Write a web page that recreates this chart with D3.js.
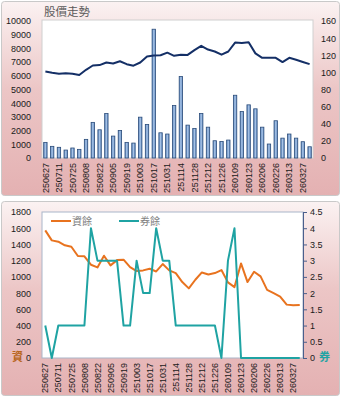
<!DOCTYPE html>
<html><head><meta charset="utf-8">
<script src="https://cdn.jsdelivr.net/npm/d3@7"></script>
<style>
html,body{margin:0;padding:0;background:#fff;}
svg{display:block;font-family:"Liberation Sans",Arial,sans-serif;}
</style></head>
<body><svg id="c" width="341" height="398"></svg>
<script>
const dates = ["250627","250704","250711","250718","250725","250801","250808","250815","250822","250829",
"250905","250912","250919","250926","251003","251009","251017","251024","251031","251107",
"251114","251121","251128","251205","251212","251219","251226","260102","260109","260116",
"260123","260130","260206","260211","260226","260306","260313","260320","260327","260402"];
const volume = [1140,850,780,580,730,630,1360,2600,2060,3250,1600,2010,1140,1090,2980,2450,9400,1840,1750,3830,
5950,2400,2160,3250,2250,1260,1210,1310,4580,3390,3880,3590,2250,1020,2720,1450,1750,1450,1190,820];
const price = [101,99.6,98.5,99,98.5,97,103,108,108.5,111.5,110.4,113,109.6,107.8,111.5,118.5,119.6,120,123,119.3,
120.7,120.4,126,131,126.7,124.4,120.7,124.4,134.8,134.4,135.2,122.2,117,117,117,112,117,114.8,112.2,109.6];
const margin = [1574,1450,1434,1389,1372,1257,1253,1150,1117,1261,1142,1207,1212,1121,1072,1080,1100,1067,1158,1080,
1047,936,858,965,1055,1030,1047,1084,932,874,1166,936,1063,1006,840,800,758,658,650,654];
const shortBal = [1,0,1,1,1,1,1,4,3,3,3,3,1,1,3,2,2,4,3,3,1,1,1,1,1,1,1,0,3,4,0,0,0,0,0,0,0,0,0,0];
const volTicks = d3.range(0,10001,1000);
const priceTicks = d3.range(0,161,20);
const marginTicks = d3.range(0,1801,200);
const shortTicks = d3.range(0,4.51,0.5);
const title = "股價走勢";
const legendNames = ["資餘","券餘"];

const svg = d3.select("#c");
const defs = svg.append("defs");
const bg = defs.append("linearGradient").attr("id","bg").attr("x1",0).attr("y1",0).attr("x2",0).attr("y2",1);
bg.append("stop").attr("offset","0").attr("stop-color","#fbf2f2");
bg.append("stop").attr("offset","0.45").attr("stop-color","#ecc6c6");
bg.append("stop").attr("offset","1").attr("stop-color","#e4b1b2");
const barG = defs.append("linearGradient").attr("id","bar").attr("x1",0).attr("y1",0).attr("x2",1).attr("y2",0);
barG.append("stop").attr("offset","0").attr("stop-color","#5a86c0");
barG.append("stop").attr("offset","0.5").attr("stop-color","#a9c4e6");
barG.append("stop").attr("offset","1").attr("stop-color","#5a86c0");

// panels
[[1,1,339,195],[1,201,339,195]].forEach(p=>{
  svg.append("rect").attr("x",p[0]+0.5).attr("y",p[1]+0.5).attr("width",p[2]-1).attr("height",p[3]-1)
    .attr("rx",3).attr("fill","url(#bg)").attr("stroke","#c9c9c9");
});

const textCol = "#1a1a1a";
function styleAxis(g){
  g.select(".domain").remove();
  g.selectAll("text").attr("fill",textCol).style("font-size","9px");
}

// ---------- Top chart ----------
const T = {l:42,r:313,t:21,b:158};
const x1 = d3.scaleBand().domain(dates).range([T.l,T.r]);
const yV = d3.scaleLinear().domain([0,10000]).range([T.b,T.t]);
const yP = d3.scaleLinear().domain([0,160]).range([T.b,T.t]);
svg.append("rect").attr("x",T.l).attr("y",T.t-1).attr("width",T.r-T.l).attr("height",T.b-T.t+1)
  .attr("fill","#fff").attr("stroke","#d0d0d0");
svg.append("text").attr("x",44).attr("y",16).text(title).attr("fill","#595959").style("font-size","11.5px")
  .style("font-family","'Noto Sans CJK TC',sans-serif");
const bw = x1.bandwidth()*0.5;
svg.append("g").selectAll("rect").data(volume).join("rect")
  .attr("x",(d,i)=>x1(dates[i])+x1.bandwidth()/2-bw/2).attr("width",bw)
  .attr("y",d=>yV(d)).attr("height",d=>yV(0)-yV(d))
  .attr("fill","url(#bar)").attr("stroke","#2c4d7a").attr("stroke-width",0.8);
svg.append("path").datum(price)
  .attr("d",d3.line().x((d,i)=>x1(dates[i])+x1.bandwidth()/2).y(d=>yP(d)))
  .attr("fill","none").attr("stroke","#142f66").attr("stroke-width",2).attr("stroke-linejoin","round");
svg.append("g").attr("transform",`translate(${T.l-8},0)`)
  .call(d3.axisLeft(yV).tickValues(volTicks).tickSize(0).tickFormat(d3.format("d"))).call(styleAxis);
svg.append("g").attr("transform",`translate(${T.r+5},0)`)
  .call(d3.axisRight(yP).tickValues(priceTicks).tickSize(0).tickFormat(d3.format("d"))).call(styleAxis);
svg.append("g").attr("transform",`translate(0,${T.b+3})`)
  .call(d3.axisBottom(x1).tickValues(dates.filter((d,i)=>i%2===0)).tickSize(0))
  .call(styleAxis)
  .selectAll("text").attr("transform","rotate(-90)").attr("text-anchor","end")
  .attr("x",-2).attr("y",0).attr("dy","0.35em");

// ---------- Bottom chart ----------
const B = {l:42,r:303,t:212,b:358};
const x2 = d3.scaleBand().domain(dates).range([B.l,B.r]);
const yM = d3.scaleLinear().domain([0,1800]).range([B.b,B.t]);
const yS = d3.scaleLinear().domain([0,4.5]).range([B.b,B.t]);
svg.append("rect").attr("x",B.l).attr("y",B.t).attr("width",B.r-B.l).attr("height",B.b-B.t)
  .attr("fill","#fff").attr("stroke","#a9b5c9");
const orange = "#e8731f", teal = "#1fa3a3";
svg.append("path").datum(margin)
  .attr("d",d3.line().x((d,i)=>x2(dates[i])+x2.bandwidth()/2).y(d=>yM(d)))
  .attr("fill","none").attr("stroke",orange).attr("stroke-width",2).attr("stroke-linejoin","round");
svg.append("path").datum(shortBal)
  .attr("d",d3.line().x((d,i)=>x2(dates[i])+x2.bandwidth()/2).y(d=>yS(d)))
  .attr("fill","none").attr("stroke",teal).attr("stroke-width",2).attr("stroke-linejoin","round");
svg.append("g").attr("transform",`translate(${B.l-8},0)`)
  .call(d3.axisLeft(yM).tickValues(marginTicks).tickSize(0).tickFormat(d3.format("d"))).call(styleAxis);
const ra = svg.append("g").attr("transform",`translate(${B.r},0)`)
  .call(d3.axisRight(yS).tickValues(shortTicks).tickSizeInner(4).tickSizeOuter(0).tickPadding(3).tickFormat(d3.format("")));
ra.select(".domain").attr("stroke","#4a5f8c");
ra.selectAll("line").attr("stroke","#4a5f8c");
ra.selectAll("text").attr("fill",textCol).style("font-size","9px");
svg.append("g").attr("transform",`translate(0,${B.b+3})`)
  .call(d3.axisBottom(x2).tickValues(dates.filter((d,i)=>i%2===0)).tickSize(0))
  .call(styleAxis)
  .selectAll("text").attr("transform","rotate(-90)").attr("text-anchor","end")
  .attr("x",-2).attr("y",0).attr("dy","0.35em");
// legend
const lg = svg.append("g");
[[51,orange,legendNames[0]],[119,teal,legendNames[1]]].forEach(([lx,c,n])=>{
  lg.append("line").attr("x1",lx).attr("x2",lx+20).attr("y1",221).attr("y2",221).attr("stroke",c).attr("stroke-width",2);
  lg.append("text").attr("x",lx+21).attr("y",225).text(n).attr("fill","#7f7f7f").style("font-size","10px")
    .style("font-family","'Noto Sans CJK TC',sans-serif");
});
svg.append("text").attr("x",12).attr("y",361).text("資").attr("fill","#b8651c").style("font-size","11px")
  .style("font-weight","bold").style("font-family","'Noto Sans CJK TC',sans-serif");
svg.append("text").attr("x",319).attr("y",361).text("券").attr("fill",teal).style("font-size","11px")
  .style("font-weight","bold").style("font-family","'Noto Sans CJK TC',sans-serif");
</script></body></html>
